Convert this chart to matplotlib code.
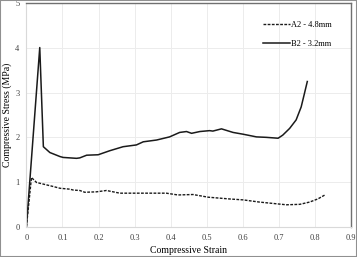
import matplotlib
matplotlib.use('Agg')
from matplotlib import pyplot as plt
from matplotlib.patches import Rectangle

plt.rcParams['font.family'] = ['Liberation Serif', 'DejaVu Serif']

# B2 - 3.2mm (solid)
b2_strain = [0.0, 0.037, 0.047, 0.065, 0.093, 0.102, 0.139, 0.148, 0.167, 0.199, 0.231,
             0.268, 0.305, 0.324, 0.361, 0.397, 0.425, 0.444, 0.458, 0.481, 0.508, 0.517,
             0.541, 0.573, 0.601, 0.638, 0.665, 0.698, 0.711, 0.730, 0.748, 0.762, 0.771, 0.779]
b2_stress = [0.0, 4.01, 1.79, 1.66, 1.57, 1.55, 1.53, 1.54, 1.60, 1.61, 1.70,
             1.79, 1.83, 1.90, 1.94, 2.01, 2.11, 2.13, 2.09, 2.13, 2.15, 2.14,
             2.19, 2.11, 2.07, 2.01, 2.00, 1.98, 2.05, 2.20, 2.39, 2.68, 2.98, 3.25]

# A2 - 4.8mm (dashed)
a2_strain = [0.0, 0.014, 0.028, 0.074, 0.093, 0.120, 0.130, 0.148, 0.162, 0.194, 0.222,
             0.259, 0.305, 0.342, 0.388, 0.420, 0.462, 0.504, 0.564, 0.601, 0.647,
             0.684, 0.721, 0.758, 0.785, 0.808, 0.830]
a2_stress = [0.0, 1.10, 0.99, 0.90, 0.86, 0.84, 0.82, 0.81, 0.77, 0.78, 0.81,
             0.75, 0.75, 0.75, 0.75, 0.71, 0.72, 0.66, 0.62, 0.60, 0.55,
             0.52, 0.49, 0.50, 0.55, 0.62, 0.72]

fig = plt.figure(figsize=(3.57, 2.57), dpi=100)
ax = fig.add_axes([0.074, 0.118, 0.909, 0.869])

ax.plot(a2_strain, a2_stress, color='#1a1a1a', linewidth=1.0, linestyle=(0, (2, 1)), label='A2 - 4.8mm')
ax.plot(b2_strain, b2_stress, color='#1a1a1a', linewidth=1.1, label='B2 - 3.2mm')

ax.set_xlim(0, 0.9)
ax.set_ylim(0, 5)
ax.set_xticks([0, 0.1, 0.2, 0.3, 0.4, 0.5, 0.6, 0.7, 0.8, 0.9])
ax.set_xticklabels(['0', '0.1', '0.2', '0.3', '0.4', '0.5', '0.6', '0.7', '0.8', '0.9'])
ax.set_yticks([0, 1, 2, 3, 4, 5])
ax.tick_params(length=0, labelsize=6, colors='#404040', pad=5)
ax.grid(True, color='#ececec', linewidth=0.7)
ax.set_axisbelow(True)
for s in ['top', 'right']:
    ax.spines[s].set_color('#707070')
    ax.spines[s].set_linewidth(1.0)
for s in ['left', 'bottom']:
    ax.spines[s].set_color('#d9d9d9')
    ax.spines[s].set_linewidth(0.8)

ax.set_xlabel('Compressive Strain', fontsize=7, labelpad=3)
ax.set_ylabel('Compressive Stress (MPa)', fontsize=7, labelpad=2)

leg = ax.legend(loc='upper right', bbox_to_anchor=(0.965, 0.955), frameon=False, fontsize=6,
                handlelength=3.2, handletextpad=0.2, labelspacing=1.3)

fig.patches.append(Rectangle((0, 0), 1, 1, transform=fig.transFigure, fill=False,
                             edgecolor='#909090', linewidth=1.5))

fig.savefig('out.png', dpi=100)
